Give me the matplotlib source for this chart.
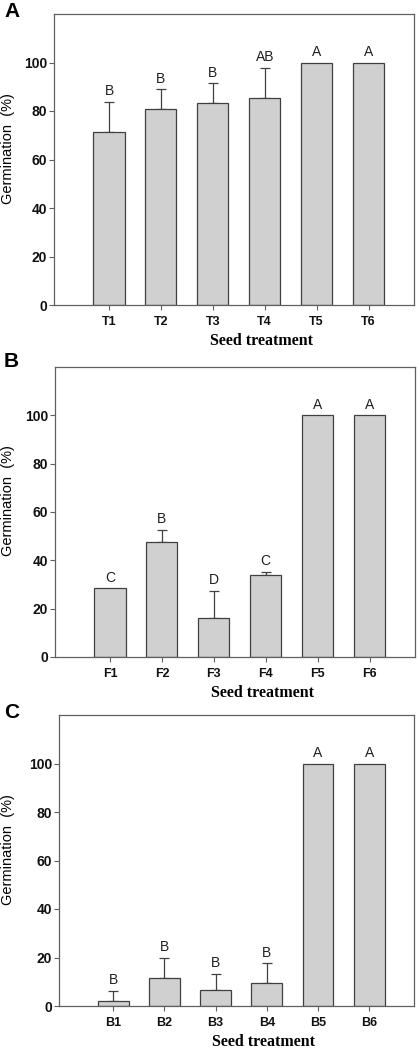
import matplotlib.pyplot as plt
import numpy as np

# Panel A - seed treatments
labels_a = ['T1', 'T2', 'T3', 'T4', 'T5', 'T6']
germ_a = [71.3, 81.0, 83.2, 85.5, 100, 100]
err_a = [12.4, 8.0, 8.2, 12.4, 0, 0]
letters_a = ['B', 'B', 'B', 'AB', 'A', 'A']

# Panel B
labels_b = ['F1', 'F2', 'F3', 'F4', 'F5', 'F6']
germ_b = [28.4, 47.5, 16.1, 33.9, 100, 100]
err_b = [0, 5.1, 11.2, 1.4, 0, 0]
letters_b = ['C', 'B', 'D', 'C', 'A', 'A']

# Panel C
labels_c = ['B1', 'B2', 'B3', 'B4', 'B5', 'B6']
germ_c = [2.2, 11.7, 6.6, 9.4, 100, 100]
err_c = [4.0, 8.1, 6.6, 8.2, 0, 0]
letters_c = ['B', 'B', 'B', 'B', 'A', 'A']

W, H = 419, 1050
# axes boxes in pixels: left, top, right, bottom
panels = [
    ('A', labels_a, germ_a, err_a, letters_a, (54, 14, 414, 305), 2),
    ('B', labels_b, germ_b, err_b, letters_b, (55, 367, 415, 657), 352),
    ('C', labels_c, germ_c, err_c, letters_c, (59, 715, 414, 1006), 703),
]

spine_col = '#606060'
fig = plt.figure(figsize=(W / 100, H / 100), dpi=100)

for name, labels, vals, errs, letters, box, ly in panels:
    l, t, r, b = box
    ax = fig.add_axes([l / W, 1 - b / H, (r - l) / W, (b - t) / H])
    x = np.arange(len(labels))
    ax.bar(x, vals, width=0.6, color='#d0d0d0', edgecolor='#404040', linewidth=0.9, zorder=2)
    # upper error bars only
    for xi, v, e, let in zip(x, vals, errs, letters):
        if e > 0:
            ax.errorbar(xi, v, yerr=[[0], [e]], fmt='none', ecolor='#404040',
                        elinewidth=0.9, capsize=3.6, capthick=0.9, zorder=1)
        ax.text(xi, v + e + 1.5, let, ha='center', va='bottom',
                fontsize=10, color='#202020', family='Liberation Sans')
    ax.set_xlim(-1.06, 5.876)
    ax.set_ylim(0, 120)
    ax.set_yticks([0, 20, 40, 60, 80, 100])
    ax.set_xticks(x)
    ax.set_xticklabels(labels)
    for lab in ax.get_yticklabels():
        lab.set_fontweight('bold')
        lab.set_fontsize(10)
        lab.set_family('Liberation Sans')
        lab.set_color('#111111')
    for lab in ax.get_xticklabels():
        lab.set_fontweight('bold')
        lab.set_fontsize(9)
        lab.set_family('Liberation Sans')
        lab.set_color('#111111')
    ax.tick_params(axis='both', direction='out', length=3.5, width=0.8, color=spine_col)
    ax.tick_params(axis='x', pad=4.5)
    ax.tick_params(axis='y', pad=1.5)
    for s in ax.spines.values():
        s.set_color(spine_col)
        s.set_linewidth(0.9)
    ax.set_ylabel('Germination  (%)', fontsize=10.5, family='Liberation Sans')
    ax.yaxis.set_label_coords((15 - l) / (r - l), 0.538)
    ax.set_xlabel('Seed treatment', fontsize=11.5, family='Liberation Serif',
                  fontweight='bold')
    ax.xaxis.set_label_coords(0.575, -0.097)
    # panel letter
    fig.text(4 / W, 1 - ly / H, name, fontsize=15, fontweight='bold',
             family='Liberation Sans', ha='left', va='top')

fig.savefig('out.png', dpi=100)
